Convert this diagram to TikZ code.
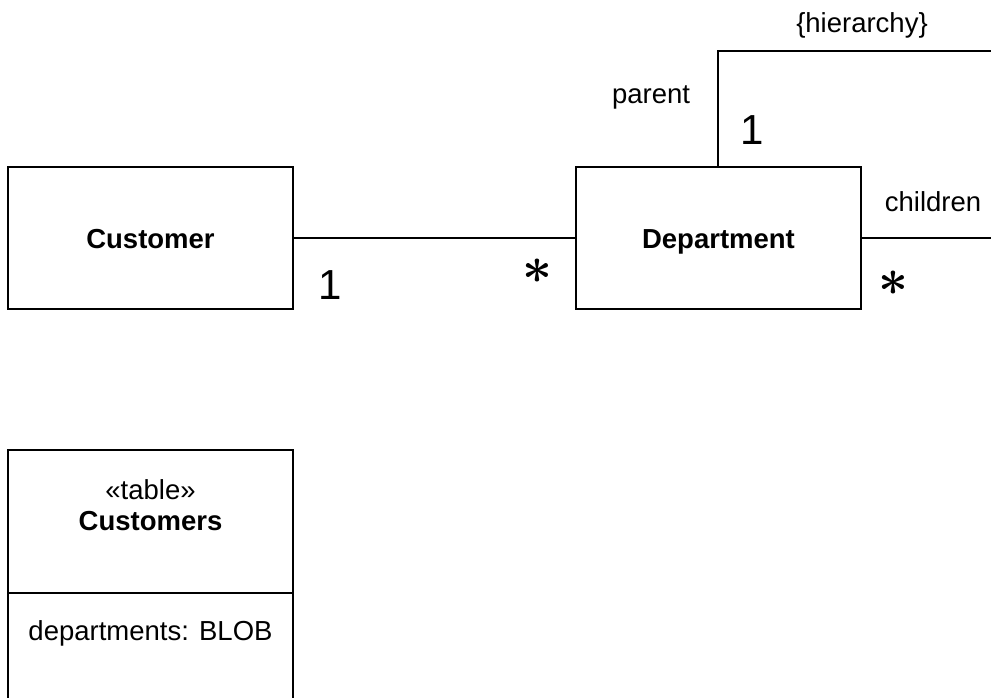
\documentclass[tikz,border=0pt]{standalone}
\usepackage{fontspec}
\usepackage{graphicx}
\setmainfont{Liberation Sans}
\newcommand{\bigast}{\scalebox{5.2}{\boldmath$\ast$}}
\begin{document}
\begin{tikzpicture}[x=1pt,y=-1pt,
  cls/.style={draw, line width=2.5pt, minimum width=285pt, minimum height=142pt, inner sep=0pt,
    text height=20pt, text depth=0pt,
    font=\fontsize{27.5}{33}\selectfont\bfseries},
  conn/.style={line width=2pt},
  lbl/.style={inner sep=0pt, font=\fontsize{27.5}{33}\selectfont},
  mult/.style={inner sep=0pt, font=\fontsize{42}{48}\selectfont},
  star/.style={inner sep=0pt}]
\useasboundingbox (0,0) rectangle (991,698);
\fill[white] (0,0) rectangle (991,698);
% classes
\node[cls] (cust) at (150.5,238) {Customer};
\node[cls] (dept) at (718.5,238) {Department};
% association Customer - Department
\draw[conn] (cust.east) -- (dept.west);
\node[mult] (m1) at (330,285) {1};
\node[star] (m2) at (537,271) {\bigast};
% self association
\coordinate (hTop) at (718,51);
\coordinate (hEnd) at (992,51);
\coordinate (cEnd) at (992,238);
\draw[conn] (dept.north -| hTop) -- (hTop) -- (hEnd);
\draw[conn] (dept.east) -- (cEnd);
\node[lbl] (hier) at (862,25) {\{hierarchy\}};
\node[lbl] (par) at (651,97) {parent};
\node[mult] (m3) at (752,130) {1};
\node[lbl] (chi) at (933,202) {children};
\node[star] (m4) at (893,283) {\bigast};
% table
\coordinate (tTL) at (8,450);
\coordinate (tTR) at (293,450);
\coordinate (tBL) at (8,702);
\coordinate (tBR) at (293,702);
\coordinate (dL) at (8,593);
\coordinate (dR) at (293,593);
\draw[line width=2.5pt] (tBL) -- (tTL) -- (tTR) -- (tBR);
\draw[line width=2pt] (dL) -- (dR);
\node[lbl] (stereo) at (150.5,490) {«table»};
\node[lbl, font=\fontsize{27.5}{33}\selectfont\bfseries] (tname) at (150.5,521) {Customers};
\node[lbl] (attr) at (150.5,633) {departments: BLOB};
\end{tikzpicture}
\end{document}
